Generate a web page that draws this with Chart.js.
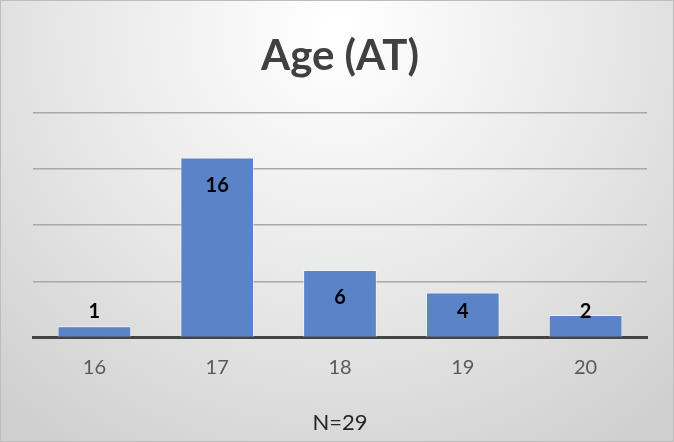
<!DOCTYPE html>
<html>
<head>
<meta charset="utf-8">
<script src="https://cdn.jsdelivr.net/npm/chart.js@4"></script>
<style>
  html, body { margin: 0; padding: 0; background: #fff; }
  #wrap { width: 674px; height: 442px; position: relative; }
</style>
</head>
<body>
<div id="wrap"><canvas id="ageChart" width="674" height="442"></canvas></div>
<script>
const ages = ["16", "17", "18", "19", "20"];
const counts = [1, 16, 6, 4, 2];
const yTicks = [0, 5, 10, 15, 20];

const FONT = "Lato, 'Open Sans', sans-serif";

const background = {
    id: "background",
    beforeDraw: function (chart) {
        const ctx = chart.ctx;
        const w = chart.width, h = chart.height;
        ctx.save();
        const g = ctx.createRadialGradient(w / 2, 30, 10, w / 2, 30, w * 0.75);
        g.addColorStop(0, "#ffffff");
        g.addColorStop(0.55, "#e6e6e6");
        g.addColorStop(1, "#cfcfcf");
        ctx.fillStyle = g;
        ctx.fillRect(0, 0, w, h);
        ctx.strokeStyle = "#bdbdbd";
        ctx.lineWidth = 1;
        ctx.strokeRect(0.5, 0.5, w - 1, h - 1);
        ctx.restore();
    }
};

// labels "inside end", pushed above the bar when it is too short
const barLabels = {
    id: "barLabels",
    afterDatasetsDraw: function (chart) {
        const ctx = chart.ctx;
        const meta = chart.getDatasetMeta(0);
        ctx.save();
        ctx.font = "bold 20px " + FONT;
        ctx.fillStyle = "#000";
        ctx.textAlign = "center";
        ctx.textBaseline = "middle";
        meta.data.forEach((bar, i) => {
            const y = Math.min(bar.y + 28, bar.base - 25);
            ctx.fillText(String(counts[i]), bar.x, y);
        });
        ctx.restore();
    }
};

new Chart(document.getElementById("ageChart"), {
    type: "bar",
    data: {
        labels: ages,
        datasets: [{
            data: counts,
            backgroundColor: "#5a83c8",
            borderColor: "rgba(255,255,255,0.55)",
            borderWidth: 1,
            barPercentage: 0.6,
            categoryPercentage: 1
        }]
    },
    options: {
        responsive: false,
        animation: false,
        layout: { padding: { left: 33, right: 27, top: 10, bottom: 6 } },
        plugins: {
            legend: { display: false },
            tooltip: { enabled: false },
            title: {
                display: true,
                text: "Age (AT)",
                color: "#404040",
                font: { family: FONT, size: 42, weight: "bold" },
                padding: { top: 21, bottom: 31 }
            }
        },
        scales: {
            x: {
                grid: { display: false, drawTicks: false },
                border: { display: true, color: "#444", width: 3 },
                ticks: {
                    color: "#595959",
                    padding: 18,
                    font: { family: FONT, size: 20 }
                },
                title: {
                    display: true,
                    text: "N=29",
                    color: "#262626",
                    font: { family: FONT, size: 22 },
                    padding: { top: 12, bottom: 0 }
                }
            },
            y: {
                min: 0,
                max: 20,
                afterBuildTicks: function (axis) {
                    axis.ticks = yTicks.map(v => ({ value: v }));
                },
                ticks: { display: false },
                border: { display: false },
                grid: {
                    drawTicks: false,
                    color: ctx => ctx.tick && ctx.tick.value === 0 ? "rgba(0,0,0,0)" : "#a8a8a8",
                    lineWidth: 1.5
                }
            }
        }
    },
    plugins: [background, barLabels]
});
</script>
</body>
</html>
